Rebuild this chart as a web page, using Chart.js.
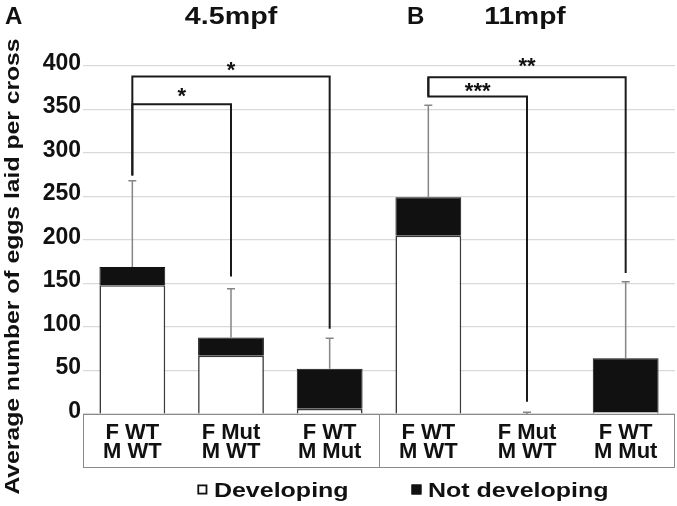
<!DOCTYPE html>
<html><head><meta charset="utf-8">
<script src="https://cdn.jsdelivr.net/npm/chart.js@4.4.1/dist/chart.umd.min.js"></script>
<style>html,body{margin:0;padding:0;background:#fff;}canvas{display:block;}</style>
</head><body>
<canvas id="c" width="677" height="506"></canvas>
<script>
// ---- data ----
const categories = [["F WT","M WT"],["F Mut","M WT"],["F WT","M Mut"],["F WT","M WT"],["F Mut","M WT"],["F WT","M Mut"]];
const panelTitles = ["4.5mpf","11mpf"];
const panelLetters = ["A","B"];
const seriesNames = ["Developing","Not developing"];
const developing = [148, 67, 6, 205, 0, 2];
const notDeveloping = [21, 21, 46, 44, 0, 62];
const upperError = [99, 56, 35, 106, 2, 88];
const yTicks = [0, 50, 100, 150, 200, 250, 300, 350, 400];
const yTitle = "Average number of eggs laid per cross";
// significance brackets (values in data units)
const bracketFrom = [0, 0, 3, 3];
const bracketTo = [1, 2, 4, 5];
const bracketLevel = [356, 388, 365, 387];
const bracketFromEnd = [274, 274, 387, 365];
const bracketToEnd = [158, 98, 14, 162];
const bracketLabel = ["*", "*", "***", "**"];
const bracketLabelAt = [369, 400, 375, 404];

const FONT = '"Liberation Sans", Arial, Helvetica, sans-serif';

function stretchedText(ctx, text, x, y, size, sx, align) {
  ctx.save();
  ctx.font = 'bold ' + size + 'px ' + FONT;
  ctx.translate(x, y);
  ctx.scale(sx, 1);
  ctx.textAlign = align || 'center';
  ctx.textBaseline = 'alphabetic';
  ctx.fillText(text, 0, 0);
  ctx.restore();
}

const annot = {
  id: 'annot',
  afterDatasetsDraw(chart) {
    const {ctx, scales: {x, y}} = chart;
    ctx.save();
    // error bars (upper only)
    ctx.strokeStyle = '#858585'; ctx.lineWidth = 1.5;
    categories.forEach((c, i) => {
      const total = developing[i] + notDeveloping[i];
      const px = x.getPixelForValue(i);
      const y0 = y.getPixelForValue(total), y1 = y.getPixelForValue(total + upperError[i]);
      ctx.beginPath();
      ctx.moveTo(px, y0); ctx.lineTo(px, y1);
      ctx.moveTo(px - 4, y1); ctx.lineTo(px + 4, y1);
      ctx.stroke();
    });
    // brackets
    ctx.strokeStyle = '#1a1a1a'; ctx.lineWidth = 2; ctx.lineJoin = 'miter';
    ctx.fillStyle = '#111';
    ctx.font = 'bold 22px ' + FONT;
    bracketFrom.forEach((f, k) => {
      const xa = x.getPixelForValue(f), xb = x.getPixelForValue(bracketTo[k]);
      const yl = y.getPixelForValue(bracketLevel[k]);
      ctx.beginPath();
      ctx.moveTo(xa, y.getPixelForValue(bracketFromEnd[k]));
      ctx.lineTo(xa, yl); ctx.lineTo(xb, yl);
      ctx.lineTo(xb, y.getPixelForValue(bracketToEnd[k]));
      ctx.stroke();
      const m = ctx.measureText(bracketLabel[k]);
      const cy = y.getPixelForValue(bracketLabelAt[k]);
      const base = cy + (m.actualBoundingBoxAscent - m.actualBoundingBoxDescent) / 2;
      ctx.textAlign = 'center'; ctx.textBaseline = 'alphabetic';
      ctx.fillText(bracketLabel[k], (xa + xb) / 2, base);
    });
    ctx.restore();
  },
  afterDraw(chart) {
    const {ctx, chartArea: ca, scales: {x}} = chart;
    ctx.save();
    // category box
    const boxH = 53;
    const divX = (x.getPixelForValue(2) + x.getPixelForValue(3)) / 2;
    ctx.strokeStyle = '#8a8a8a'; ctx.lineWidth = 1;
    ctx.strokeRect(ca.left + 0.5, ca.bottom + 0.5, ca.right - ca.left - 1, boxH);
    ctx.beginPath(); ctx.moveTo(Math.round(divX) + 0.5, ca.bottom); ctx.lineTo(Math.round(divX) + 0.5, ca.bottom + boxH); ctx.stroke();
    ctx.fillStyle = '#111';
    // panel letters and titles
    stretchedText(ctx, panelLetters[0], 5, 23.5, 24, 1, 'left');
    stretchedText(ctx, panelLetters[1], divX + 28, 23.5, 24, 1, 'left');
    stretchedText(ctx, panelTitles[0], (ca.left + divX) / 2, 23.5, 23.5, 1.22, 'center');
    stretchedText(ctx, panelTitles[1], (divX + ca.right) / 2 - 2, 23.5, 23.5, 1.2, 'center');
    // y title
    ctx.save();
    ctx.translate(18.5, 266.5);
    ctx.rotate(-Math.PI / 2);
    ctx.scale(1.235, 1);
    ctx.font = 'bold 20px ' + FONT;
    ctx.textAlign = 'center'; ctx.textBaseline = 'alphabetic';
    ctx.fillText(yTitle, 0, 0);
    ctx.restore();
    // legend
    const centers = [273, 510];
    const sx = 1.25;
    chart.data.datasets.forEach((ds, i) => {
      ctx.font = 'bold 20px ' + FONT;
      const tw = ctx.measureText(ds.label).width * sx;
      const total = 10 + 6.5 + tw;
      const left = centers[i] - total / 2;
      ctx.fillStyle = ds.backgroundColor;
      ctx.fillRect(left, 484.5, 10, 10);
      ctx.strokeStyle = '#111'; ctx.lineWidth = 1.8;
      ctx.strokeRect(left + 0.9, 485.4, 8.2, 8.2);
      ctx.fillStyle = '#111';
      stretchedText(ctx, ds.label, left + 16.5, 496.7, 20, sx, 'left');
    });
    ctx.restore();
  }
};

new Chart(document.getElementById('c'), {
  type: 'bar',
  data: {
    labels: categories,
    datasets: [
      { label: seriesNames[0], data: developing, backgroundColor: '#ffffff', borderColor: '#3a3a3a', borderWidth: 1.6 },
      { label: seriesNames[1], data: notDeveloping, backgroundColor: '#111111', borderColor: '#111111', borderWidth: 1 }
    ]
  },
  options: {
    responsive: false,
    devicePixelRatio: 1,
    animation: false,
    layout: { padding: { top: 66, left: 0, right: 2, bottom: 0 } },
    datasets: { bar: { barPercentage: 0.667, categoryPercentage: 1 } },
    plugins: { legend: { display: false }, title: { display: false }, tooltip: { enabled: false } },
    scales: {
      x: {
        stacked: true,
        grid: { display: false, drawTicks: false },
        border: { display: false },
        ticks: { font: { family: FONT, size: 22, weight: 'bold', lineHeight: 0.85 }, color: '#111', padding: 10, maxRotation: 0, autoSkip: false },
        afterFit(s) { s.height = 92; }
      },
      y: {
        stacked: true,
        min: 0, max: 400,
        afterBuildTicks(s) { s.ticks = yTicks.map(v => ({ value: v })); },
        grid: { color: '#d9d9d9', lineWidth: 1.2, drawTicks: false },
        border: { display: false },
        ticks: { font: { family: FONT, size: 23, weight: 'bold' }, color: '#111', padding: 2, labelOffset: -2.5 },
        afterFit(s) { s.width = 83; }
      }
    }
  },
  plugins: [annot]
});
</script>
</body></html>
